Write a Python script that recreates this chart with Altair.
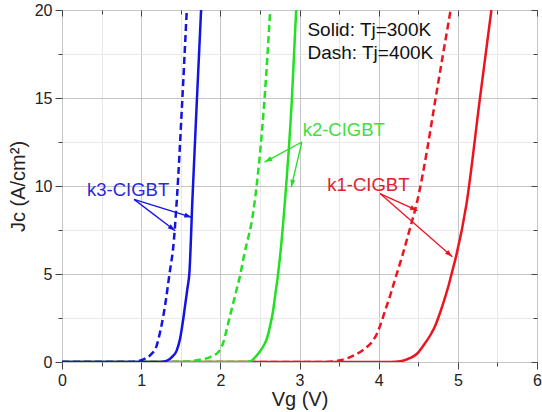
import math
import altair as alt
import pandas as pd

# ---- plot geometry (plot area only) ----
W, H = 475, 352
X_MIN, X_MAX = 0, 6
Y_MIN, Y_MAX = 0, 20
FONT = "Liberation Sans"

# ---- tick positions ----
x_major = [0, 1, 2, 3, 4, 5, 6]
x_minor = [0.5, 1.5, 2.5, 3.5, 4.5, 5.5]
y_major = [0, 5, 10, 15, 20]
y_minor = [2.5, 7.5, 12.5, 17.5]

# ---- transfer curves Jc(Vg) ----
# k3-CIGBT, Tj = 300 K
k3_300_vg = [0.0, 1.20, 1.281, 1.335, 1.387, 1.45, 1.492, 1.526, 1.555, 1.584, 1.61, 1.647, 1.70, 1.757]
k3_300_jc = [0.0, 0.0, 0.02, 0.10, 0.28, 0.66, 1.33, 2.27, 3.22, 4.17, 5.11, 9.19, 14.5, 20.0]
# k3-CIGBT, Tj = 400 K
k3_400_vg = [0.0, 0.85, 0.95, 1.03, 1.112, 1.197, 1.239, 1.281, 1.315, 1.344, 1.374, 1.40, 1.45, 1.515, 1.576]
k3_400_jc = [0.0, 0.0, 0.04, 0.15, 0.38, 0.95, 1.70, 2.65, 3.60, 4.55, 5.50, 6.30, 9.19, 14.5, 20.0]
# k2-CIGBT, Tj = 300 K
k2_300_vg = [0.0, 2.30, 2.377, 2.461, 2.525, 2.588, 2.63, 2.664, 2.693, 2.722, 2.756, 2.807, 2.903, 2.958]
k2_300_jc = [0.0, 0.0, 0.04, 0.38, 0.76, 1.33, 2.08, 2.84, 3.79, 4.74, 6.06, 8.62, 14.87, 20.0]
# k2-CIGBT, Tj = 400 K
k2_400_vg = [0.0, 1.45, 1.60, 1.703, 1.871, 1.977, 2.04, 2.082, 2.124, 2.166, 2.209, 2.25, 2.30, 2.419, 2.49, 2.557, 2.63]
k2_400_jc = [0.0, 0.0, 0.03, 0.10, 0.28, 0.57, 1.14, 1.89, 2.65, 3.41, 4.17, 4.92, 6.06, 8.62, 11.34, 14.87, 20.0]
# k1-CIGBT, Tj = 300 K
k1_300_vg = [0.0, 4.15, 4.273, 4.40, 4.484, 4.568, 4.652, 4.716, 4.779, 4.834, 4.884, 4.927, 4.981, 5.11, 5.276, 5.424]
k1_300_jc = [0.0, 0.0, 0.04, 0.23, 0.47, 0.95, 1.52, 2.08, 2.84, 3.60, 4.36, 5.11, 6.06, 9.0, 14.87, 20.0]
# k1-CIGBT, Tj = 400 K
k1_400_vg = [0.0, 3.30, 3.42, 3.515, 3.641, 3.767, 3.852, 3.915, 3.978, 4.02, 4.062, 4.104, 4.146, 4.21, 4.30, 4.39, 4.49, 4.61, 4.715, 4.909]
k1_400_jc = [0.0, 0.0, 0.03, 0.10, 0.28, 0.57, 0.85, 1.14, 1.61, 2.08, 2.65, 3.22, 3.79, 4.74, 6.06, 7.5, 9.19, 12.0, 14.87, 20.0]

BLUE, GREEN, RED = "#1414e0", "#22e022", "#ea1520"

# drawn back to front
series = [
    (k1_400_vg, k1_400_jc, RED, True),
    (k1_300_vg, k1_300_jc, RED, False),
    (k2_400_vg, k2_400_jc, GREEN, True),
    (k2_300_vg, k2_300_jc, GREEN, False),
    (k3_400_vg, k3_400_jc, BLUE, True),
    (k3_300_vg, k3_300_jc, BLUE, False),
]

# ---- device labels and their pointer arrows ----
label_text = ["k3-CIGBT", "k2-CIGBT", "k1-CIGBT"]
label_vg = [0.316, 3.04, 3.35]
label_jc = [9.43, 12.84, 9.73]
label_color = ["#2a2ad8", "#3ee03e", "#e3202c"]

arrow_color = [BLUE, BLUE, GREEN, GREEN, RED, RED]
arrow_vg0 = [0.91, 0.91, 3.03, 3.03, 4.017, 4.017]
arrow_jc0 = [9.24, 9.24, 12.5, 12.5, 9.57, 9.57]
arrow_vg1 = [1.64, 1.43, 2.56, 2.895, 4.49, 4.93]
arrow_jc1 = [8.22, 7.46, 11.36, 9.93, 8.6, 5.98]

legend_lines = ["Solid: Tj=300K", "Dash: Tj=400K"]
legend_vg = [3.10, 3.10]
legend_jc = [18.52, 17.2]

xs = alt.Scale(domain=[X_MIN, X_MAX], nice=False, zero=False)
ys = alt.Scale(domain=[Y_MIN, Y_MAX], nice=False, zero=False)


def axis_props(values, orient, tick, offset, grid_color, labels, title, title_pad):
    kw = dict(values=values, orient=orient, tickSize=tick, offset=offset,
              labels=labels, labelFlush=False, grid=grid_color is not None,
              domain=False, title=title if title is not None else "",
              titlePadding=title_pad)
    if grid_color is not None:
        kw["gridColor"] = grid_color
    return alt.Axis(**kw)


def x_axis(values, orient, tick, offset, grid_color=None, labels=False, title=None, title_pad=0):
    return alt.Chart(pd.DataFrame({"v": values})).mark_point(opacity=0).encode(
        x=alt.X("v:Q", scale=xs,
                axis=axis_props(values, orient, tick, offset, grid_color, labels, title, title_pad))
    )


def y_axis(values, orient, tick, offset, grid_color=None, labels=False, title=None, title_pad=0):
    return alt.Chart(pd.DataFrame({"v": values})).mark_point(opacity=0).encode(
        y=alt.Y("v:Q", scale=ys,
                axis=axis_props(values, orient, tick, offset, grid_color, labels, title, title_pad))
    )


MINOR_GRID, MAJOR_GRID = "#e9e9e9", "#c6c6c6"

axes = [
    x_axis(x_minor, "bottom", 4, 0, MINOR_GRID),
    y_axis(y_minor, "left", 4, 0, MINOR_GRID),
    x_axis(x_major, "bottom", 7, 0, MAJOR_GRID, labels=True, title="Vg (V)", title_pad=1),
    y_axis(y_major, "left", 7, 0, MAJOR_GRID, labels=True, title="Jc (A/cm²)", title_pad=6),
    x_axis(x_minor, "top", 4, -4),
    x_axis(x_major, "top", 6, -6),
    y_axis(y_minor, "right", 4, -4),
    y_axis(y_major, "right", 6, -6),
]

curves = []
for vg, jc, color, dashed in series:
    df = pd.DataFrame({"Vg": vg, "Jc": jc})
    kw = dict(color=color, strokeWidth=2.5, interpolate="monotone", clip=True)
    if dashed:
        kw["strokeDash"] = [7, 4]
    curves.append(
        alt.Chart(df).mark_line(**kw).encode(
            x=alt.X("Vg:Q", scale=xs, axis=None),
            y=alt.Y("Jc:Q", scale=ys, axis=None),
            order=alt.Order("Vg:Q"),
        )
    )

# arrows: shaft plus a head rotated along the shaft direction
px_per_v = W / (X_MAX - X_MIN)
px_per_j = H / (Y_MAX - Y_MIN)
angles = []
for a, b, c, d in zip(arrow_vg0, arrow_jc0, arrow_vg1, arrow_jc1):
    dx = (c - a) * px_per_v
    dy = -(d - b) * px_per_j
    angles.append(math.degrees(math.atan2(dx, -dy)) % 360)

arrows_df = pd.DataFrame({
    "v0": arrow_vg0, "j0": arrow_jc0, "v1": arrow_vg1, "j1": arrow_jc1,
    "c": arrow_color, "ang": angles,
})
shafts = alt.Chart(arrows_df).mark_rule(strokeWidth=1.3).encode(
    x=alt.X("v0:Q", scale=xs, axis=None),
    y=alt.Y("j0:Q", scale=ys, axis=None),
    x2="v1:Q",
    y2="j1:Q",
    color=alt.Color("c:N", scale=None),
)
heads = alt.Chart(arrows_df).mark_point(
    shape="M0,0L-0.5,1.5L0.5,1.5Z", filled=True, size=100, opacity=1
).encode(
    x=alt.X("v1:Q", scale=xs, axis=None),
    y=alt.Y("j1:Q", scale=ys, axis=None),
    angle=alt.Angle("ang:Q", scale=None),
    color=alt.Color("c:N", scale=None),
)

labels_df = pd.DataFrame({"t": label_text, "v": label_vg, "j": label_jc, "c": label_color})
labels = alt.Chart(labels_df).mark_text(
    align="left", baseline="alphabetic", font=FONT, fontSize=18.5
).encode(
    x=alt.X("v:Q", scale=xs, axis=None),
    y=alt.Y("j:Q", scale=ys, axis=None),
    text="t:N",
    color=alt.Color("c:N", scale=None),
)

legend_df = pd.DataFrame({"t": legend_lines, "v": legend_vg, "j": legend_jc})
legend = alt.Chart(legend_df).mark_text(
    align="left", baseline="alphabetic", font=FONT, fontSize=19, color="#111111"
).encode(
    x=alt.X("v:Q", scale=xs, axis=None),
    y=alt.Y("j:Q", scale=ys, axis=None),
    text="t:N",
)

chart = alt.layer(*axes, *curves, shafts, heads, labels, legend).resolve_axis(
    x="independent", y="independent"
).properties(
    width=W,
    height=H,
    padding={"left": 62, "top": 10, "right": 5, "bottom": 50},
    autosize=alt.AutoSizeParams(type="none"),
).configure_view(
    stroke="#3c3c3c", strokeWidth=1
).configure_axis(
    labelFont=FONT, titleFont=FONT, labelFontSize=16, titleFontSize=20,
    titleFontWeight="normal", labelColor="#222222", titleColor="#222222",
    tickColor="#444444", labelPadding=3, gridWidth=1,
)

chart.save("out.html", embed_options={"renderer": "svg", "actions": False})
